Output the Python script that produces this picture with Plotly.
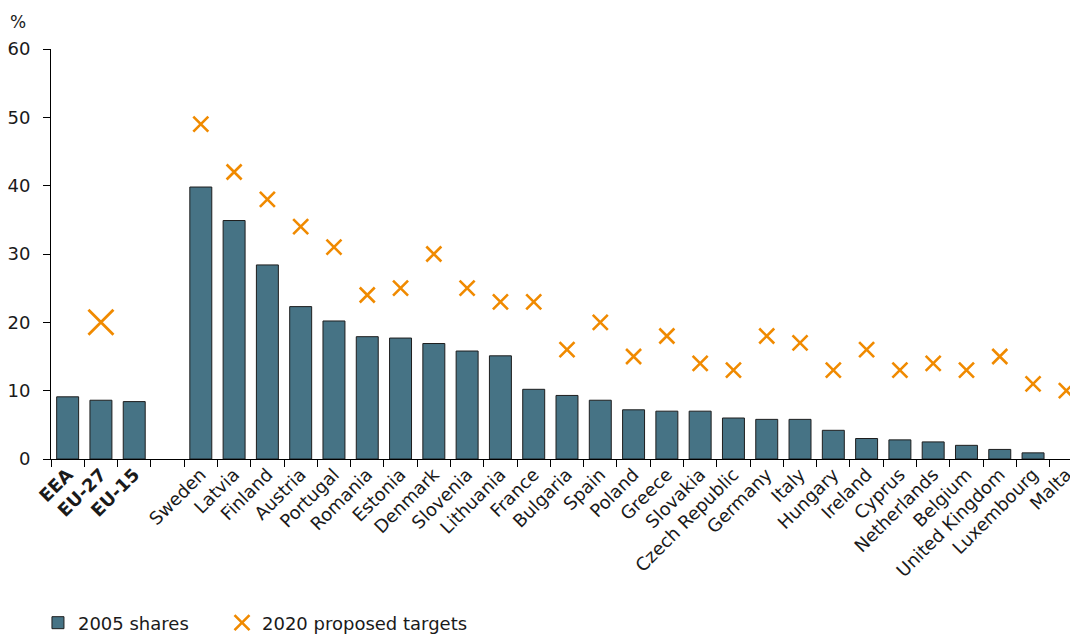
import plotly.graph_objects as go

aggregates = ["EEA", "EU-27", "EU-15"]
agg_shares_2005 = [9.1, 8.6, 8.4]
agg_targets_2020 = [None, 20, None]

countries = ["Sweden", "Latvia", "Finland", "Austria", "Portugal", "Romania", "Estonia",
             "Denmark", "Slovenia", "Lithuania", "France", "Bulgaria", "Spain", "Poland",
             "Greece", "Slovakia", "Czech Republic", "Germany", "Italy", "Hungary", "Ireland",
             "Cyprus", "Netherlands", "Belgium", "United Kingdom", "Luxembourg", "Malta"]
shares_2005 = [39.8, 34.9, 28.4, 22.3, 20.2, 17.9, 17.7,
               16.9, 15.8, 15.1, 10.2, 9.3, 8.6, 7.2,
               7.0, 7.0, 6.0, 5.8, 5.8, 4.2, 3.0,
               2.8, 2.5, 2.0, 1.4, 0.9, 0.0]
targets_2020 = [49, 42, 38, 34, 31, 24, 25,
                30, 25, 23, 23, 16, 20, 15,
                18, 14, 13, 18, 17, 13, 16,
                13, 14, 13, 15, 11, 10]

gap = " "
cats = aggregates + [gap] + countries
ticktext = ["<b>%s</b>" % a for a in aggregates] + [""] + countries

bar_color = "#467385"
x_color = "#F08A00"
font = "DejaVu Sans, Verdana, sans-serif"

bar_values = agg_shares_2005 + shares_2005
outline_widths = [1 if v > 0 else 0 for v in bar_values]

fig = go.Figure()
fig.add_trace(go.Bar(
    x=aggregates + countries, y=bar_values,
    name="2005 shares", width=0.66, legend="legend",
    marker=dict(color=bar_color, line=dict(color="#1e1e1e", width=outline_widths)),
))
fig.add_trace(go.Scatter(
    x=countries, y=targets_2020, mode="markers", name="2020 proposed targets",
    legendgroup="t", legend="legend2",
    marker=dict(symbol="x-thin", size=15, line=dict(color=x_color, width=2.6), color=x_color),
))
fig.add_trace(go.Scatter(
    x=aggregates, y=agg_targets_2020, mode="markers", showlegend=False,
    legendgroup="t", legend="legend2",
    marker=dict(symbol="x-thin", size=25, line=dict(color=x_color, width=2.8), color=x_color),
))

legend_common = dict(orientation="h", xref="container", yref="container", y=0.0223,
                     xanchor="left", yanchor="middle", font=dict(size=18),
                     itemwidth=30, bgcolor="rgba(0,0,0,0)")
fig.update_layout(
    width=1070, height=629,
    margin=dict(l=43, r=0, t=41, b=178),
    plot_bgcolor="white", paper_bgcolor="white",
    font=dict(family=font, size=18, color="#1a1a1a"),
    showlegend=True,
    legend=dict(x=0.028, **legend_common),
    legend2=dict(x=0.2, **legend_common),
    bargap=0.34,
)
fig.update_xaxes(
    type="category", categoryorder="array", categoryarray=cats,
    tickvals=cats, ticktext=ticktext, tickangle=-45,
    range=[-0.5, 30.35], automargin=False,
    showline=True, linecolor="black", linewidth=1,
    ticks="outside", tickson="boundaries", ticklen=7, tickcolor="black",
    tickfont=dict(size=18), showgrid=False, ticklabelstandoff=-3,
)
fig.update_yaxes(
    range=[0, 60], tickvals=[0, 10, 20, 30, 40, 50, 60], automargin=False,
    showline=True, linecolor="black", linewidth=1,
    ticks="outside", ticklen=7, tickcolor="black", showgrid=False, zeroline=False,
    tickfont=dict(size=18), ticklabelstandoff=9,
)
fig.add_annotation(text="%", xref="paper", yref="paper", x=-0.0419, y=1.095,
                   xanchor="left", yanchor="top", showarrow=False, font=dict(size=17))

fig.write_html("out.html")
